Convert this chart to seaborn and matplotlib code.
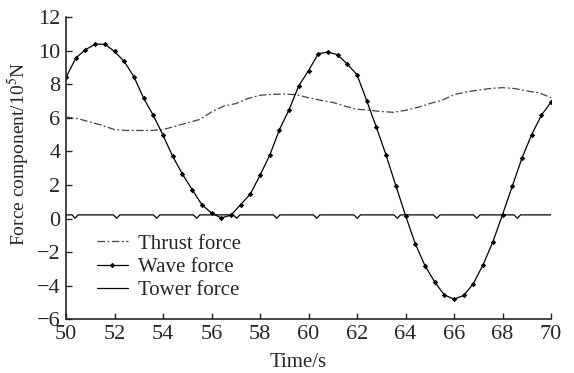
import matplotlib
matplotlib.use("Agg")
import matplotlib.pyplot as plt
import seaborn as sns
import pandas as pd

# wave force, sampled every 0.4 s
wave_t = [50.0, 50.4, 50.8, 51.2, 51.6, 52.0, 52.4, 52.8, 53.2, 53.6,
          54.0, 54.4, 54.8, 55.2, 55.6, 56.0, 56.4, 56.8, 57.2, 57.6,
          58.0, 58.4, 58.8, 59.2, 59.6, 60.0, 60.4, 60.8, 61.2, 61.6,
          62.0, 62.4, 62.8, 63.2, 63.6, 64.0, 64.4, 64.8, 65.2, 65.6,
          66.0, 66.4, 66.8, 67.2, 67.6, 68.0, 68.4, 68.8, 69.2, 69.6, 70.0]
wave_v = [8.41, 9.56, 10.06, 10.39, 10.39, 9.96, 9.36, 8.45, 7.18, 6.15,
          4.96, 3.71, 2.65, 1.73, 0.83, 0.33, 0.04, 0.20, 0.83, 1.46,
          2.58, 3.77, 5.30, 6.49, 7.92, 8.81, 9.82, 9.92, 9.76, 9.20,
          8.57, 7.02, 5.43, 3.77, 1.96, 0.18, -1.49, -2.80, -3.77, -4.55,
          -4.80, -4.58, -3.87, -2.74, -1.39, 0.24, 1.92, 3.60, 5.00, 6.15, 6.94]

# thrust force
thrust_t = [50.0, 50.5, 51.0, 51.5, 52.0, 52.5, 53.0, 53.5, 54.0, 54.5,
            55.0, 55.5, 56.0, 56.5, 57.0, 57.5, 58.0, 58.5, 59.0, 59.5,
            60.0, 60.5, 61.0, 61.5, 62.0, 62.5, 63.0, 63.5, 64.0, 64.5,
            65.0, 65.5, 66.0, 66.5, 67.0, 67.5, 68.0, 68.5, 69.0, 69.5, 70.0]
thrust_v = [6.05, 5.95, 5.75, 5.55, 5.30, 5.25, 5.25, 5.25, 5.30, 5.50,
            5.70, 5.90, 6.35, 6.70, 6.85, 7.15, 7.35, 7.40, 7.42, 7.38,
            7.20, 7.05, 6.92, 6.70, 6.52, 6.45, 6.38, 6.33, 6.45, 6.62,
            6.85, 7.05, 7.38, 7.55, 7.65, 7.75, 7.80, 7.75, 7.60, 7.50, 7.20]

# tower force: flat with small notches
tower_t = [50.0, 50.25, 50.37, 50.5, 51.95, 52.09, 52.22, 53.6, 53.74, 53.87,
           55.25, 55.39, 55.52, 56.9, 57.04, 57.17, 58.55, 58.69, 58.82,
           60.2, 60.34, 60.47, 61.87, 62.01, 62.14, 63.52, 63.66, 63.79,
           65.15, 65.29, 65.42, 66.8, 66.94, 67.07, 68.47, 68.61, 68.74, 70.0]
tower_v = [0.22, 0.22, 0.02, 0.22, 0.22, 0.02, 0.22, 0.22, 0.02, 0.22,
           0.22, 0.02, 0.22, 0.22, 0.02, 0.22, 0.22, 0.02, 0.22,
           0.22, 0.02, 0.22, 0.22, 0.02, 0.22, 0.22, 0.02, 0.22,
           0.22, 0.02, 0.22, 0.22, 0.02, 0.22, 0.22, 0.02, 0.22, 0.22]

sns.set_style("ticks")
plt.rcParams['font.family'] = ['Liberation Serif', 'DejaVu Serif']
plt.rcParams['mathtext.fontset'] = 'stix'

fig = plt.figure(figsize=(5.74, 3.73), dpi=100)
ax = fig.add_axes([0.115, 0.144, 0.845, 0.81])

df_thrust = pd.DataFrame({'t': thrust_t, 'v': thrust_v})
df_wave = pd.DataFrame({'t': wave_t, 'v': wave_v})
df_tower = pd.DataFrame({'t': tower_t, 'v': tower_v})

sns.lineplot(data=df_thrust, x='t', y='v', ax=ax, color='#444444', lw=0.9,
             linestyle=(0, (6, 2, 1.5, 2)), label='Thrust force')
sns.lineplot(data=df_wave, x='t', y='v', ax=ax, color='black', lw=0.9,
             marker='D', markersize=2.8, markeredgewidth=0, label='Wave force')
sns.lineplot(data=df_tower, x='t', y='v', ax=ax, color='black', lw=0.9,
             label='Tower force')

ax.set_xlim(50, 70)
ax.set_ylim(-6, 12)
ax.set_xticks(range(50, 71, 2))
ax.set_yticks(range(-6, 13, 2))
ax.tick_params(direction='in', length=4, width=1, labelsize=16, pad=4)
for s in ['left', 'bottom']:
    ax.spines[s].set_linewidth(1.2)
sns.despine(ax=ax)

ax.set_xlabel('Time/s', fontsize=15)
ax.xaxis.set_label_coords(0.478, -0.11)
ax.set_ylabel('Force component/10$^5$N', fontsize=14)
ax.yaxis.set_label_coords(-0.07, 0.548)

ax.legend(loc='upper left', bbox_to_anchor=(0.063, 0.282), frameon=False,
          fontsize=15, handlelength=1.52, handletextpad=0.48, labelspacing=0.17,
          borderaxespad=0, borderpad=0)

fig.savefig('out.png', dpi=100)
